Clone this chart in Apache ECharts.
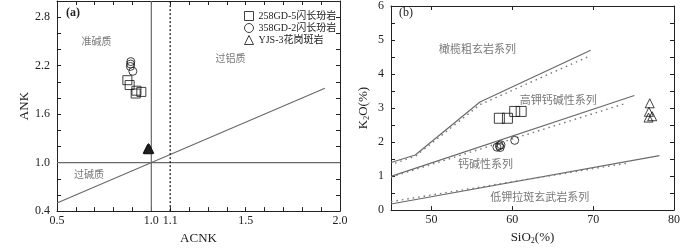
<!DOCTYPE html>
<html>
<head>
<meta charset="utf-8">
<script src="https://cdn.jsdelivr.net/npm/echarts@6/dist/echarts.min.js"></script>
<style>
html, body { margin: 0; padding: 0; background: #fff; }
#chart { width: 700px; height: 250px; }
</style>
</head>
<body>
<div id="chart"></div>
<script>
// ---- (a) ANK vs ACNK ----
const acnkLabels = [0.5, 1.0, 1.1, 1.5, 2.0]
const ankLabels = [0.4, 1.0, 1.6, 2.2, 2.8]
const gd258A = [[0.873, 2.02], [0.885, 1.96], [0.921, 1.89], [0.947, 1.875], [0.917, 1.855]]
const gd358A = [[0.891, 2.25], [0.890, 2.22], [0.889, 2.19], [0.902, 2.13]]
const yjs3A = [[0.980, 1.17], [0.985, 1.18], [0.990, 1.17], [0.984, 1.165]]
const diagLine = [[0.5, 0.5], [1.92, 1.92]]

// ---- (b) K2O vs SiO2 ----
const sio2Labels = [50, 60, 70, 80]
const k2oLabels = [0, 1, 2, 3, 4, 5, 6]
const gd258B = [[58.4, 2.7], [59.4, 2.7], [60.3, 2.9], [61.1, 2.9]]
const gd358B = [[58.1, 1.85], [58.4, 1.89], [58.6, 1.92], [58.5, 1.84], [60.3, 2.05]]
const yjs3B = [[77.0, 3.14], [76.9, 2.89], [76.85, 2.72], [77.3, 2.76]]
const shoshLine = [[45, 1.4], [48, 1.62], [56, 3.18], [69.7, 4.7]]
const shoshDots = [[45.5, 1.38], [48, 1.58], [56, 3.1], [69.5, 4.52]]
const highKLine = [[45, 0.99], [75.1, 3.37]]
const highKDots = [[45, 0.97], [73.8, 3.12]]
const lowKLine = [[45, 0.18], [78.2, 1.6]]
const lowKDots = [[45, 0.25], [74.2, 1.38]]

const names = ['258GD-5闪长玢岩', '358GD-2闪长玢岩', 'YJS-3花岗斑岩']

// field labels, placed in data coordinates
const notesA = [
    { name: '准碱质', value: [0.71, 2.5] },
    { name: '过铝质', value: [1.42, 2.29] },
    { name: '过碱质', value: [0.67, 0.855] }
]
const notesB = [
    { name: '橄榄粗玄岩系列', value: [55.7, 4.74] },
    { name: '高钾钙碱性系列', value: [65.7, 3.25] },
    { name: '钙碱性系列', value: [56.7, 1.35] },
    { name: '低钾拉斑玄武岩系列', value: [63.4, 0.40] }
]

const serif = '"Liberation Serif", "Noto Sans CJK SC", serif'
const cjk = '"Noto Sans CJK SC", sans-serif'
const axisColor = '#222'
const guideColor = '#6a6a6a'

function frameAxis(extra) {
    return Object.assign({
        type: 'value',
        axisLine: { show: true, onZero: false, lineStyle: { color: axisColor, width: 1 } },
        axisTick: { show: true, inside: true, length: 4, lineStyle: { color: axisColor } },
        axisLabel: { show: false },
        splitLine: { show: false }
    }, extra)
}

function tickLabel(fmt, margin) {
    return {
        show: true,
        fontFamily: serif,
        fontSize: 12,
        color: '#222',
        margin: margin,
        formatter: fmt
    }
}

const nameStyle = {
    fontFamily: serif,
    fontSize: 13,
    color: '#222',
    rich: {
        s: { fontFamily: serif, fontSize: 8, color: '#222', padding: [7, 0, 0, 0] }
    }
}

function line(name, data, xi, yi, dotted, color) {
    return {
        type: 'line',
        name: name,
        xAxisIndex: xi,
        yAxisIndex: yi,
        data: data,
        showSymbol: false,
        silent: true,
        z: 1,
        lineStyle: {
            color: color || guideColor,
            width: dotted ? 1.4 : 1.2,
            type: dotted ? [1.5, 4] : 'solid'
        }
    }
}

function dots(name, data, xi, yi, symbol, size) {
    return {
        type: 'scatter',
        name: name,
        xAxisIndex: xi,
        yAxisIndex: yi,
        data: data,
        symbol: symbol,
        symbolSize: size,
        z: 3,
        itemStyle: { color: 'rgba(0,0,0,0)', borderColor: '#111', borderWidth: 1 }
    }
}

function notes(data, xi, yi, fontSize) {
    return {
        type: 'scatter',
        name: 'notes',
        xAxisIndex: xi,
        yAxisIndex: yi,
        data: data,
        symbolSize: 0,
        silent: true,
        label: {
            show: true,
            position: 'inside',
            formatter: '{b}',
            fontFamily: cjk,
            fontSize: fontSize,
            color: '#555'
        }
    }
}

const chart = echarts.init(document.getElementById('chart'))

const option = {
    animation: false,
    grid: [
        { left: 57, right: 360, top: 1, bottom: 28 },
        { left: 391, right: 26, top: 1, bottom: 28 }
    ],
    legend: {
        orient: 'vertical',
        left: 239,
        top: 6,
        itemWidth: 9,
        itemHeight: 9,
        itemGap: 2,
        itemStyle: { borderWidth: 1 },
        textStyle: { fontFamily: serif, fontSize: 10, color: '#222' },
        data: [
            { name: names[0], icon: 'rect' },
            { name: names[1], icon: 'circle' },
            { name: names[2], icon: 'triangle' }
        ]
    },
    xAxis: [
        frameAxis({
            gridIndex: 0, min: 0.5, max: 2.0, interval: 0.1, position: 'bottom',
            name: 'ACNK', nameLocation: 'middle', nameGap: 17, nameTextStyle: nameStyle,
            axisLabel: Object.assign(tickLabel(v => v.toFixed(1), 4), { customValues: acnkLabels })
        }),
        frameAxis({ gridIndex: 0, min: 0.5, max: 2.0, interval: 0.1, position: 'top' }),
        frameAxis({
            gridIndex: 1, min: 45, max: 80, interval: 5, position: 'bottom',
            name: 'SiO{s|2}(%)', nameLocation: 'middle', nameGap: 17, nameTextStyle: nameStyle,
            axisTick: { show: true, inside: true, length: 4, lineStyle: { color: axisColor }, customValues: sio2Labels },
            axisLabel: Object.assign(tickLabel(v => String(v), 4), { customValues: sio2Labels })
        }),
        frameAxis({
            gridIndex: 1, min: 45, max: 80, interval: 5, position: 'top',
            axisTick: { show: true, inside: true, length: 4, lineStyle: { color: axisColor }, customValues: [50, 60, 70] }
        })
    ],
    yAxis: [
        frameAxis({
            gridIndex: 0, min: 0.4, max: 3.0, interval: 0.2, position: 'left',
            name: 'ANK', nameLocation: 'middle', nameGap: 26, nameTextStyle: nameStyle,
            axisLabel: Object.assign(tickLabel(v => v.toFixed(1), 7), { customValues: ankLabels })
        }),
        frameAxis({ gridIndex: 0, min: 0.4, max: 3.0, interval: 0.2, position: 'right' }),
        frameAxis({
            gridIndex: 1, min: 0, max: 6, interval: 0.5, position: 'left',
            name: 'K{s|2}O(%)', nameLocation: 'middle', nameGap: 20, nameTextStyle: nameStyle,
            axisLabel: Object.assign(tickLabel(v => String(v), 7), { customValues: k2oLabels })
        }),
        frameAxis({ gridIndex: 1, min: 0, max: 6, interval: 0.5, position: 'right' })
    ],
    graphic: [
        { type: 'text', left: 66, top: 7, style: { text: '(a)', font: 'bold 12px "Liberation Serif"', fill: '#222' } },
        { type: 'text', left: 399, top: 7, style: { text: '(b)', font: '12px "Liberation Serif"', fill: '#222' } }
    ],
    series: [
        // (a)
        line('diag', diagLine, 0, 0),
        line('acnk1', [[1.0, 0.4], [1.0, 3.0]], 0, 0),
        line('ank1', [[0.5, 1.0], [2.0, 1.0]], 0, 0),
        {
            type: 'line', name: 'acnk11', xAxisIndex: 0, yAxisIndex: 0,
            data: [[1.1, 0.4], [1.1, 3.0]], showSymbol: false, silent: true,
            lineStyle: { color: '#111', width: 1.2, type: [2, 2] }
        },
        dots(names[0], gd258A, 0, 0, 'rect', 9),
        dots(names[1], gd358A, 0, 0, 'circle', 8),
        Object.assign(dots(names[2], yjs3A, 0, 0, 'triangle', 9), {
            data: yjs3A.map(p => ({ value: p, itemStyle: { color: '#222' } }))
        }),
        notes(notesA, 0, 0, 10),
        // (b)
        line('shosh', shoshLine, 2, 2),
        line('shoshDot', shoshDots, 2, 2, true, '#777'),
        line('highK', highKLine, 2, 2),
        line('highKDot', highKDots, 2, 2, true, '#777'),
        line('lowK', lowKLine, 2, 2),
        line('lowKDot', lowKDots, 2, 2, true, '#777'),
        dots(names[0], gd258B, 2, 2, 'rect', 10),
        dots(names[1], gd358B, 2, 2, 'circle', 8),
        dots(names[2], yjs3B, 2, 2, 'triangle', 9),
        notes(notesB, 2, 2, 11)
    ]
}

chart.setOption(option)
</script>
</body>
</html>
